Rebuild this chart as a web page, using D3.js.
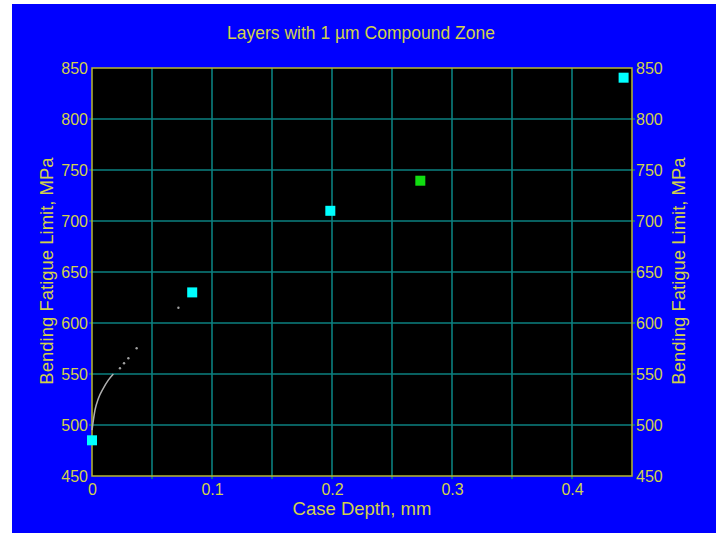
<!DOCTYPE html>
<html>
<head>
<meta charset="utf-8">
<script src="https://cdn.jsdelivr.net/npm/d3@7"></script>
<style>
  body { margin: 0; background: #fff; }
  svg text { font-family: "Liberation Sans", Arial, sans-serif; fill: #d2d24a; }
</style>
</head>
<body>
<div id="chart"></div>
<script>
// measured points (case depth mm, fatigue limit MPa)
const cyanPoints = [[0, 485], [0.0835, 630], [0.1986, 710], [0.443, 840.5]];
const greenPoints = [[0.2736, 739.5]];
// thin gray trend trace near the origin
const traceLine = [[0, 495], [0.0025, 514.7], [0.0053, 526], [0.0094, 536], [0.0136, 544], [0.0178, 550]];
const traceDots = [[0.0233, 555.6], [0.0267, 560.5], [0.0303, 565.4], [0.0372, 575.2], [0.072, 615]];
const xTicks = [0, 0.1, 0.2, 0.3, 0.4];
const xGrid = [0.05, 0.1, 0.15, 0.2, 0.25, 0.3, 0.35, 0.4];
const yTicks = [450, 500, 550, 600, 650, 700, 750, 800, 850];

const W = 716, H = 533;
const margin = {left: 92, right: 84, top: 68, bottom: 57};

const svg = d3.select("#chart").append("svg")
    .attr("width", W)
    .attr("height", H);

svg.append("rect")
    .attr("x", 12).attr("y", 4)
    .attr("width", W - 12).attr("height", H - 4)
    .attr("fill", "#0000ff");

const xScale = d3.scaleLinear()
    .domain([0, 0.45])
    .range([margin.left, W - margin.right]);
const yScale = d3.scaleLinear()
    .domain([450, 850])
    .range([H - margin.bottom, margin.top]);

// plot background
svg.append("rect")
    .attr("x", margin.left).attr("y", margin.top)
    .attr("width", xScale(0.45) - margin.left)
    .attr("height", yScale(450) - margin.top)
    .attr("fill", "#000");

// grid
const grid = svg.append("g").attr("stroke", "#0b8080").attr("stroke-width", 1.6);
grid.selectAll(".vg").data(xGrid).join("line")
    .attr("x1", d => xScale(d)).attr("x2", d => xScale(d))
    .attr("y1", yScale(850)).attr("y2", yScale(450) + 3);
grid.selectAll(".hg").data(yTicks.slice(1, -1)).join("line")
    .attr("x1", xScale(0) - 3).attr("x2", xScale(0.45) + 3)
    .attr("y1", d => yScale(d)).attr("y2", d => yScale(d));

// frame
svg.append("rect")
    .attr("x", margin.left).attr("y", margin.top)
    .attr("width", xScale(0.45) - margin.left)
    .attr("height", yScale(450) - margin.top)
    .attr("fill", "none")
    .attr("stroke", "#b8b830")
    .attr("stroke-width", 1.5);

// axes
const fmtX = d => d === 0 ? "0" : d3.format(".1f")(d);
const xAxis = svg.append("g")
    .attr("transform", "translate(0," + yScale(450) + ")")
    .call(d3.axisBottom(xScale).tickValues(xTicks).tickFormat(fmtX).tickSize(0).tickPadding(8));
const yAxisL = svg.append("g")
    .attr("transform", "translate(" + xScale(0) + ",0)")
    .call(d3.axisLeft(yScale).tickValues(yTicks).tickSize(0).tickPadding(4));
const yAxisR = svg.append("g")
    .attr("transform", "translate(" + xScale(0.45) + ",0)")
    .call(d3.axisRight(yScale).tickValues(yTicks).tickSize(0).tickPadding(4));
[xAxis, yAxisL, yAxisR].forEach(a => {
    a.select(".domain").remove();
    a.selectAll("text").attr("font-size", 16).attr("fill", "#d2d24a");
});

// trace
const line = d3.line()
    .x(d => xScale(d[0]))
    .y(d => yScale(d[1]))
    .curve(d3.curveMonotoneX);
svg.append("path")
    .datum(traceLine)
    .attr("d", line)
    .attr("fill", "none")
    .attr("stroke", "#b0b0b0")
    .attr("stroke-width", 1.5);
svg.selectAll(".td").data(traceDots).join("circle")
    .attr("cx", d => xScale(d[0])).attr("cy", d => yScale(d[1]))
    .attr("r", 1.2).attr("fill", "#a0a0a0");

// markers
const sq = 10;
svg.selectAll(".cy").data(cyanPoints).join("rect")
    .attr("x", d => xScale(d[0]) - sq / 2).attr("y", d => yScale(d[1]) - sq / 2)
    .attr("width", sq).attr("height", sq)
    .attr("fill", "#00ffff");
svg.selectAll(".gr").data(greenPoints).join("rect")
    .attr("x", d => xScale(d[0]) - sq / 2).attr("y", d => yScale(d[1]) - sq / 2)
    .attr("width", sq).attr("height", sq)
    .attr("fill", "#11dd11");

// titles
svg.append("text")
    .attr("x", 361).attr("y", 39)
    .attr("text-anchor", "middle").attr("font-size", 17.5)
    .text("Layers with 1 µm Compound Zone");
svg.append("text")
    .attr("x", 362).attr("y", 515)
    .attr("text-anchor", "middle").attr("font-size", 18.5)
    .text("Case Depth, mm");
svg.append("text")
    .attr("transform", "translate(53,271) rotate(-90)")
    .attr("text-anchor", "middle").attr("font-size", 18.5)
    .text("Bending Fatigue Limit, MPa");
svg.append("text")
    .attr("transform", "translate(685,271) rotate(-90)")
    .attr("text-anchor", "middle").attr("font-size", 18.5)
    .text("Bending Fatigue Limit, MPa");
</script>
</body>
</html>
